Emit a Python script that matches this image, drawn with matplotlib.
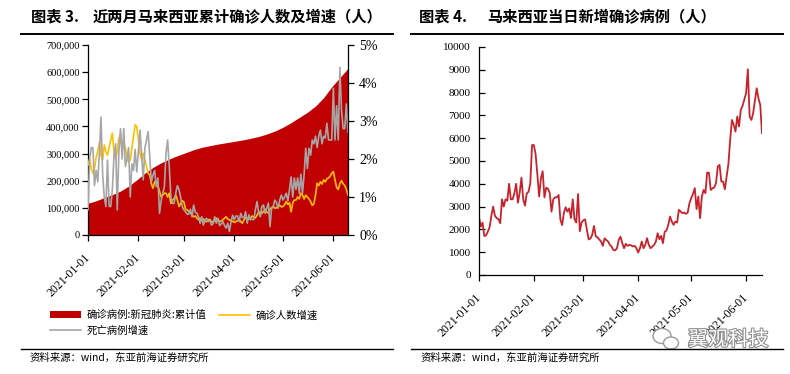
import matplotlib
matplotlib.use('Agg')
import matplotlib.pyplot as plt
import matplotlib.ticker as mticker
import matplotlib.patheffects as pe
from matplotlib.patches import Patch, Ellipse
from matplotlib.lines import Line2D
from matplotlib.font_manager import FontProperties
import pandas as pd

# ---------------- data ----------------
start_date = '2021-01-01'

# daily new confirmed cases (right chart), 2021-01-01 .. 2021-06-10
daily_new = [2550, 2120, 2300, 1710, 1740, 1900, 2100, 2600, 3000, 2600,
             2490, 2450, 2270, 3320, 3000, 3320, 3260, 4000, 3320, 3320,
             3580, 4000, 3170, 3610, 4270, 3320, 3040, 3580, 3650, 4020,
             5700, 5700, 5300, 4400, 3440, 4240, 4550, 3400, 3830, 3780,
             3590, 2780, 3320, 3410, 3400, 3510, 2440, 2190, 2730, 2970,
             2780, 2920, 2500, 3320, 2440, 2300, 3550, 1920, 2300, 2400,
             2440, 1980, 1560, 1600, 1760, 2150, 1700, 1650, 1560, 1470,
             1280, 1610, 1530, 1470, 1320, 1240, 1090, 1080, 1175, 1540,
             1680, 1400, 1175, 1365, 1280, 1320, 1300, 1250, 1280, 1175,
             985, 1175, 1468, 1175, 1322, 1614, 1322, 1175, 1248, 1322,
             1468, 1833, 1570, 1716, 1395, 1900, 1950, 2200, 2565, 2345,
             2200, 2345, 2300, 2857, 2784, 2711, 2740, 2680, 2740, 3150,
             3370, 3560, 3810, 2890, 3440, 2490, 3440, 3730, 3590, 4490,
             4490, 3730, 3800, 3840, 4030, 4760, 4830, 4100, 4100, 3760,
             4320, 4870, 5930, 6800, 6590, 6290, 6950, 6510, 7240, 7420,
             7700, 7970, 9020, 6950, 6800, 7100, 7650, 8190, 7750, 7460,
             6220]

# confirmed-case growth rate (%), same dates
confirmed_growth = [1.84, 2.0, 1.75, 1.62, 1.75, 2.05, 2.2, 2.43, 2.1, 1.98,
                    2.37, 2.2, 2.1, 2.3, 2.5, 2.68, 2.2, 2.0, 2.2, 2.55,
                    2.65, 2.3, 2.45, 2.3, 2.05, 1.92, 1.98, 2.3, 2.6, 2.9,
                    2.85, 2.5, 2.15, 1.97, 2.15, 1.97, 1.8, 1.62, 1.58, 1.35,
                    1.23, 1.4, 1.35, 1.3, 1.15, 1.0, 1.05, 1.1, 1.1, 1.0,
                    1.1, 0.83, 0.92, 0.95, 1.05, 0.92, 0.75, 0.83, 0.9, 0.87,
                    0.68, 0.66, 0.62, 0.58, 0.53, 0.48, 0.5, 0.45, 0.4, 0.44,
                    0.38, 0.42, 0.36, 0.35, 0.4, 0.41, 0.35, 0.35, 0.38, 0.44,
                    0.4, 0.35, 0.37, 0.4, 0.44, 0.48, 0.42, 0.4, 0.37, 0.36,
                    0.33, 0.35, 0.38, 0.41, 0.35, 0.31, 0.4, 0.46, 0.41, 0.42,
                    0.44, 0.5, 0.47, 0.45, 0.52, 0.6, 0.61, 0.57, 0.62, 0.68,
                    0.6, 0.58, 0.68, 0.72, 0.75, 0.7, 0.72, 0.75, 0.78, 0.74,
                    0.75, 0.8, 0.88, 0.8, 0.85, 0.61, 0.85, 0.92, 0.92, 1.0,
                    0.95, 1.1, 1.05, 0.95, 1.05, 1.0, 0.95, 0.88, 0.78, 0.82,
                    1.05, 1.36, 1.3, 1.4, 1.34, 1.45, 1.4, 1.48, 1.5, 1.55,
                    1.62, 1.67, 1.45, 1.25, 1.2, 1.35, 1.43, 1.35, 1.3, 1.2,
                    1.05]

# death growth rate (%), same dates
death_growth = [0.66, 2.0, 2.3, 2.3, 1.3, 1.7, 1.4, 2.15, 3.1, 1.6,
                1.0, 0.75, 1.97, 0.75, 0.75, 1.2, 2.1, 2.4, 0.66, 2.2,
                2.8, 2.0, 2.8, 1.8, 2.0, 2.3, 1.0, 1.87, 1.7, 2.25,
                1.66, 2.2, 2.76, 2.1, 1.45, 2.28, 2.5, 2.72, 2.05, 1.4,
                1.58, 1.7, 1.27, 1.5, 0.57, 0.9, 1.1, 1.27, 2.15, 2.5,
                1.8, 1.0, 0.83, 0.83, 1.1, 1.3, 1.2, 1.0, 0.75, 0.66,
                0.61, 0.55, 0.55, 0.68, 0.48, 0.79, 0.6, 0.57, 0.48, 0.31,
                0.48, 0.26, 0.4, 0.44, 0.35, 0.4, 0.26, 0.3, 0.48, 0.31,
                0.44, 0.25, 0.29, 0.35, 0.25, 0.18, 0.31, 0.09, 0.35, 0.52,
                0.4, 0.5, 0.5, 0.35, 0.57, 0.46, 0.46, 0.61, 0.31, 0.53,
                0.4, 0.42, 0.4, 0.66, 0.88, 0.6, 0.48, 0.75, 0.79, 0.57,
                0.7, 0.84, 0.22, 0.7, 0.75, 0.92, 0.85, 0.7, 0.92, 1.05,
                0.92, 1.0, 1.1, 0.9, 1.2, 1.53, 1.0, 1.5, 1.2, 1.5,
                1.1, 1.6, 1.1, 1.6, 2.28, 1.75, 2.28, 2.1, 2.5, 2.4,
                2.6, 2.3, 2.6, 2.76, 2.4, 2.6, 2.55, 2.94, 2.5, 2.5,
                2.5, 3.86, 2.5, 3.4, 2.5, 4.41, 3.3, 2.8, 2.8, 3.45,
                2.7]

# cumulative confirmed cases, read every 5 days from 2021-01-01
cumulative = [116700, 126000, 138000, 149000, 162000, 180000, 203000, 228000,
              249000, 266000, 280000, 292000, 303000, 314000, 323000, 329000,
              335000, 340000, 345000, 350000, 356000, 363000, 372000, 383000,
              397000, 414000, 433000, 452000, 475000, 506000, 546000, 580000,
              614000]

tick_labels = ['2021-01-01', '2021-02-01', '2021-03-01',
               '2021-04-01', '2021-05-01', '2021-06-01']

legend_labels = ['确诊病例:新冠肺炎:累计值', '死亡病例增速', '确诊人数增速']

# ---------------- style ----------------
CJK = ['Noto Sans CJK SC', 'DejaVu Sans']
SERIF = ['Liberation Serif', 'DejaVu Serif']
RED_AREA = '#C00000'
YELLOW = '#FFC000'
GREY = '#A6A6A6'
RED_LINE = '#C8232C'

W, H = 790, 374
fig = plt.figure(figsize=(W / 100, H / 100), dpi=100)
fig.patch.set_facecolor('white')


def fx(px):
    return px / W


def fy(py):
    return 1 - py / H


dates = pd.date_range(start_date, periods=len(daily_new), freq='D')
cum_dates = pd.date_range(start_date, periods=len(cumulative), freq='5D')
tick_dates = pd.to_datetime(tick_labels)

# ---------------- left chart ----------------
ax1 = fig.add_axes([fx(88), fy(235), fx(348) - fx(88), fy(45) - fy(235)])
ax1.fill_between(cum_dates, 0, cumulative, color=RED_AREA, lw=0)
ax1.set_xlim(dates[0], dates[-1])
ax1.set_ylim(0, 700000)
ax1.set_yticks(range(0, 700001, 100000))
ax1.yaxis.set_major_formatter(mticker.FuncFormatter(lambda v, p: f'{v:,.0f}'))
ax1.set_xticks(tick_dates)
ax1.set_xticklabels(tick_labels, rotation=45, ha='right', va='center',
                    rotation_mode='anchor')
for s in ['top', 'right']:
    ax1.spines[s].set_visible(False)
ax1.tick_params(axis='y', direction='out', length=4, width=0.9, labelsize=7.5, pad=2)
ax1.tick_params(axis='x', direction='out', length=4, width=0.9, labelsize=8.5, pad=11)
for lab in ax1.get_yticklabels() + ax1.get_xticklabels():
    lab.set_fontfamily(SERIF)

ax2 = ax1.twinx()
ax2.plot(dates, confirmed_growth, color=YELLOW, lw=1.2)
ax2.plot(dates, death_growth, color=GREY, lw=1.2)
ax2.set_ylim(0, 5)
ax2.set_yticks(range(0, 6))
ax2.yaxis.set_major_formatter(mticker.FuncFormatter(lambda v, p: f'{v:.0f}%'))
for s in ['top', 'left', 'bottom']:
    ax2.spines[s].set_visible(False)
ax2.tick_params(axis='y', direction='out', length=4, width=0.9, labelsize=10, pad=4)
for lab in ax2.get_yticklabels():
    lab.set_fontfamily(SERIF)
for a in (ax1, ax2):
    for s in a.spines.values():
        s.set_linewidth(0.9)

handles = [Patch(facecolor=RED_AREA, edgecolor='none'),
           Line2D([], [], color=GREY, lw=1.2),
           Line2D([], [], color=YELLOW, lw=1.2)]
fig.legend(handles, legend_labels, ncol=2, loc='upper left',
           bbox_to_anchor=(fx(50), fy(310)), frameon=False,
           prop=FontProperties(family=CJK, size=7.5),
           handlelength=3, handleheight=0.7, handletextpad=0.5,
           columnspacing=1.2, labelspacing=0.45, borderpad=0, borderaxespad=0)

# ---------------- right chart ----------------
ax3 = fig.add_axes([fx(479), fy(275), fx(762) - fx(479), fy(47) - fy(275)])
ax3.plot(dates, daily_new, color=RED_LINE, lw=1.3)
ax3.set_xlim(dates[0], dates[-1])
ax3.set_ylim(0, 10000)
ax3.set_yticks(range(0, 10001, 1000))
ax3.set_xticks(tick_dates)
ax3.set_xticklabels(tick_labels, rotation=45, ha='right', va='center',
                    rotation_mode='anchor')
for s in ['top', 'right']:
    ax3.spines[s].set_visible(False)
for s in ax3.spines.values():
    s.set_linewidth(0.9)
ax3.tick_params(axis='y', direction='in', length=4, width=0.9, labelsize=8, pad=6)
ax3.tick_params(axis='x', direction='out', length=4, width=0.9, labelsize=8.5, pad=11)
for lab in ax3.get_yticklabels() + ax3.get_xticklabels():
    lab.set_fontfamily(SERIF)

# ---------------- titles, rules, sources ----------------
fig.text(fx(31), fy(16), '图表 3.', fontsize=11, fontweight='bold',
         va='center', ha='left', family=CJK)
fig.text(fx(93), fy(16), '近两月马来西亚累计确诊人数及增速（人）', fontsize=11,
         fontweight='bold', va='center', ha='left', family=CJK)
fig.text(fx(419), fy(16), '图表 4.', fontsize=11, fontweight='bold',
         va='center', ha='left', family=CJK)
fig.text(fx(487), fy(16), '马来西亚当日新增确诊病例（人）', fontsize=11,
         fontweight='bold', va='center', ha='left', family=CJK)

for x0, x1 in [(21, 393), (411, 783)]:
    fig.add_artist(Line2D([fx(x0), fx(x1)], [fy(33.5)] * 2, color='black', lw=1.4))
    fig.add_artist(Line2D([fx(x0), fx(x1)], [fy(349)] * 2, color='black', lw=1.0))

fig.text(fx(30), fy(358), '资料来源：wind，东亚前海证券研究所', fontsize=7.5,
         va='center', ha='left', family=CJK)
fig.text(fx(421), fy(358), '资料来源：wind，东亚前海证券研究所', fontsize=7.5,
         va='center', ha='left', family=CJK)

# watermark
for cx, cy, w, h in [(662, 336, 18, 15), (671, 343, 15, 12)]:
    fig.add_artist(Ellipse((fx(cx), fy(cy)), w / W, h / H, transform=fig.transFigure,
                           facecolor='white', edgecolor='#9a9a9a', lw=1.0))
fig.text(fx(688), fy(340), '翼观科技', fontsize=14.5, color='white', va='center',
         ha='left', family=CJK,
         path_effects=[pe.withStroke(linewidth=1.6, foreground='#8f8f8f')])

fig.savefig('out.png', dpi=100, facecolor='white')
